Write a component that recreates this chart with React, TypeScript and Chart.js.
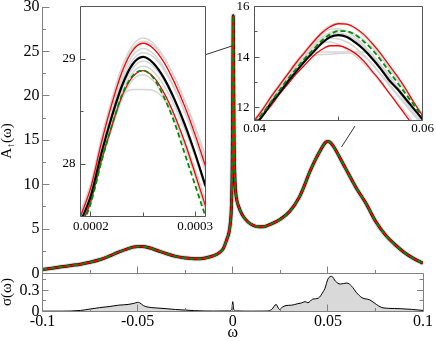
import React, { useEffect, useRef } from 'react';
import { Chart, registerables } from 'chart.js';

Chart.register(...registerables);

const W = 436;
const H = 341;
const FONT = "'Liberation Serif', 'Times New Roman', Times, serif";
const AXIS = '#808080';
const FRAME = '#555555';
const GRAY = '#d6d6d6';
const RED = '#ff0000';
const GREEN = '#008c00';
const BLACK = '#000000';

// ---------- main panel: A(omega) ----------
const mainOmega = [-0.1, -0.095, -0.09, -0.085, -0.08, -0.075, -0.07, -0.065, -0.06, -0.055,
  -0.0525, -0.05, -0.0475, -0.045, -0.04, -0.035, -0.03, -0.025, -0.02, -0.015, -0.01, -0.007,
  -0.005, -0.003, -0.002, -0.0012, -0.0007, -0.0003, -0.0001, 0, 0.0001, 0.00019,
  0.00025, 0.00031, 0.0004, 0.0005, 0.0007, 0.001, 0.0015, 0.002, 0.003, 0.005,
  0.008, 0.011, 0.014, 0.017, 0.02, 0.025, 0.03, 0.035, 0.0375, 0.04,
  0.0425, 0.045, 0.0475, 0.048, 0.049, 0.05, 0.051, 0.052, 0.053, 0.055, 0.0575, 0.06, 0.065, 0.07,
  0.075, 0.08, 0.085, 0.09, 0.095, 0.1];
const mainMean = [0.45, 0.6, 0.75, 0.9, 1.05, 1.27, 1.55, 1.95, 2.4, 2.8,
  2.97, 3.05, 3.03, 2.95, 2.62, 2.25, 1.93, 1.75, 1.65, 1.72, 2.0, 2.35,
  2.8, 3.9, 4.6, 5.8, 7.5, 11.5, 16.5, 19.5, 24.0, 27.4,
  29.02, 27.8, 24.5, 20.5, 15.0, 11.5, 9.3, 8.4, 7.6, 6.6,
  5.8, 5.4, 5.25, 5.3, 5.55, 6.1, 7.0, 8.6, 9.8, 11.2,
  12.4, 13.45, 14.4, 14.55, 14.8, 14.87, 14.8, 14.58, 14.3, 13.55, 12.55, 11.55, 9.6, 7.9,
  5.9, 4.4, 3.3, 2.4, 1.7, 1.16];

// zoom connector lines (main-panel coordinates)
const link1Omega = [-0.01406, -0.0004];
const link1A = [24.65, 25.61];
const link2Omega = [0.06426, 0.05716];
const link2A = [16.6, 14.24];

// ---------- lower panel: sigma(omega) ----------
const sigmaOmega = [-0.1, -0.09, -0.08, -0.075, -0.07, -0.065, -0.06, -0.055, -0.052, -0.05,
  -0.049, -0.047, -0.045, -0.04, -0.035, -0.03, -0.025, -0.02, -0.01, -0.002,
  -0.0005, 0, 0.0005, 0.002, 0.01, 0.018, 0.0205, 0.0228, 0.0245, 0.026,
  0.028, 0.031, 0.034, 0.036, 0.038, 0.0395, 0.042, 0.045, 0.0475, 0.0485,
  0.05, 0.052, 0.054, 0.0565, 0.06, 0.0625, 0.065, 0.068, 0.072, 0.0755,
  0.078, 0.082, 0.088, 0.094, 0.1];
const sigmaValues = [0.005, 0.005, 0.015, 0.035, 0.055, 0.07, 0.09, 0.10, 0.115, 0.13,
  0.125, 0.085, 0.065, 0.05, 0.04, 0.028, 0.02, 0.012, 0.006, 0.008,
  0.03, 0.14, 0.03, 0.008, 0.005, 0.006, 0.03, 0.10, 0.03, 0.06,
  0.085, 0.09, 0.11, 0.12, 0.14, 0.125, 0.175, 0.19, 0.28, 0.33,
  0.46, 0.50, 0.43, 0.39, 0.405, 0.36, 0.27, 0.195, 0.165, 0.10,
  0.06, 0.045, 0.04, 0.03, 0.015];

// ---------- inset 1 (central peak) ----------
const inset1Omega = [0.00019, 0.0002, 0.00021, 0.00022, 0.00023, 0.00024, 0.00025,
  0.00026, 0.00027, 0.00028, 0.00029, 0.0003, 0.00031];
const inset1Black = [27.45, 27.70, 28.10, 28.45, 28.75, 28.95, 29.02, 28.96, 28.82, 28.62, 28.38, 28.10, 27.79];
const inset1RedHigh = [27.50, 27.78, 28.20, 28.57, 28.88, 29.08, 29.15, 29.10, 28.97, 28.78, 28.55, 28.28, 27.98];
const inset1RedLow = [27.40, 27.65, 28.03, 28.36, 28.65, 28.83, 28.89, 28.83, 28.68, 28.47, 28.21, 27.91, 27.60];
const inset1Green = [27.38, 27.63, 28.02, 28.36, 28.66, 28.84, 28.89, 28.82, 28.64, 28.40, 28.10, 27.80, 27.50];
const inset1Gray = [
  [27.55, 27.82, 28.25, 28.62, 28.93, 29.13, 29.20, 29.15, 29.02, 28.83, 28.60, 28.33, 28.03],
  [27.52, 27.80, 28.22, 28.58, 28.90, 29.10, 29.17, 29.13, 29.01, 28.83, 28.61, 28.36, 28.08],
  [27.50, 27.76, 28.17, 28.53, 28.84, 29.03, 29.10, 29.05, 28.92, 28.73, 28.50, 28.23, 27.93],
  [27.48, 27.74, 28.14, 28.49, 28.80, 28.99, 29.06, 29.02, 28.90, 28.72, 28.50, 28.25, 27.97],
  [27.44, 27.69, 28.08, 28.42, 28.72, 28.91, 28.98, 28.93, 28.80, 28.60, 28.36, 28.08, 27.77],
  [27.42, 27.67, 28.05, 28.39, 28.68, 28.87, 28.93, 28.88, 28.75, 28.56, 28.33, 28.07, 27.78],
  [27.40, 27.64, 28.02, 28.34, 28.62, 28.80, 28.85, 28.79, 28.64, 28.43, 28.17, 27.88, 27.56],
  [27.40, 27.64, 28.02, 28.34, 28.64, 28.71, 28.71, 28.70, 28.62, 28.45, 28.22, 27.95, 27.65],
];

// ---------- inset 2 (peak at 0.05) ----------
const inset2Omega = [0.04, 0.041, 0.042, 0.043, 0.044, 0.045, 0.046, 0.047, 0.048, 0.049, 0.05,
  0.051, 0.052, 0.053, 0.054, 0.055, 0.056, 0.057, 0.058, 0.059, 0.06];
const inset2Black = [11.3, 11.7, 12.2, 12.6, 13.05, 13.45, 13.85, 14.2, 14.55, 14.8, 14.87, 14.8, 14.58, 14.3, 13.95, 13.55, 13.1, 12.75, 12.35, 11.95, 11.55];
const inset2RedHigh = [11.5, 11.95, 12.45, 12.9, 13.35, 13.8, 14.2, 14.6, 14.95, 15.2, 15.32, 15.3, 15.15, 14.9, 14.55, 14.15, 13.7, 13.25, 12.75, 12.2, 11.7];
const inset2RedLow = [11.3, 11.7, 12.1, 12.55, 12.95, 13.35, 13.7, 14.05, 14.3, 14.45, 14.45, 14.35, 14.15, 13.85, 13.45, 13.05, 12.6, 12.15, 11.7, 11.25, 10.8];
const inset2Green = [11.4, 11.8, 12.25, 12.7, 13.15, 13.55, 13.95, 14.3, 14.65, 14.9, 15.03, 15.02, 14.88, 14.62, 14.3, 13.9, 13.45, 13.0, 12.55, 12.1, 11.65];
const inset2Gray = [
  [11.55, 12.0, 12.5, 12.95, 13.4, 13.85, 14.25, 14.65, 15.0, 15.25, 15.35, 15.3, 15.12, 14.85, 14.5, 14.1, 13.65, 13.2, 12.7, 12.2, 11.7],
  [11.45, 11.9, 12.4, 12.85, 13.3, 13.75, 14.15, 14.55, 14.9, 15.1, 15.12, 15.0, 14.78, 14.48, 14.12, 13.72, 13.3, 12.85, 12.4, 11.95, 11.5],
  [11.4, 11.8, 12.3, 12.75, 13.2, 13.6, 14.0, 14.4, 14.7, 14.9, 14.95, 14.88, 14.68, 14.4, 14.05, 13.65, 13.22, 12.8, 12.35, 11.9, 11.45],
  [11.35, 11.75, 12.25, 12.7, 13.15, 13.55, 13.95, 14.3, 14.6, 14.75, 14.72, 14.6, 14.38, 14.08, 13.72, 13.32, 12.9, 12.5, 12.1, 11.7, 11.3],
  [11.35, 11.75, 12.25, 12.7, 13.15, 13.55, 13.95, 14.08, 14.1, 14.12, 14.14, 14.16, 14.18, 14.05, 13.75, 13.35, 12.95, 12.55, 12.15, 11.75, 11.35],
  [11.4, 11.8, 12.3, 12.75, 13.2, 13.6, 14.0, 14.18, 14.2, 14.2, 14.2, 14.2, 14.2, 14.2, 13.95, 13.55, 13.15, 12.7, 12.25, 11.8, 11.4],
  [11.3, 11.7, 12.15, 12.6, 13.05, 13.5, 13.9, 14.3, 14.55, 14.6, 14.5, 14.3, 14.05, 13.75, 13.4, 13.0, 12.6, 12.2, 11.8, 11.4, 11.0],
  [11.45, 11.85, 12.3, 12.75, 13.2, 13.65, 14.05, 14.45, 14.78, 14.98, 15.05, 15.02, 14.9, 14.68, 14.38, 14.0, 13.58, 13.12, 12.65, 12.2, 11.75],
];

// ---------- tick positions & labels ----------
const mainYTicks = [0, 5, 10, 15, 20, 25, 30];
const mainYLabels = ['0', '5', '10', '15', '20', '25', '30'];
const mainYMinor = [2.5, 7.5, 12.5, 17.5, 22.5, 27.5];
const omegaMajor = [-0.05, 0, 0.05];
const omegaMinor = [-0.075, -0.025, 0.025, 0.075];
const lowerXTicks = [-0.1, -0.05, 0, 0.05, 0.1];
const lowerXLabels = ['-0.1', '-0.05', '0', '0.05', '0.1'];
const lowerYTicks = [0, 0.3];
const lowerYLabels = ['0', '0.3'];
const lowerYMinor = [0.15, 0.45];
const inset1XTicks = [0.0002, 0.0003];
const inset1XLabels = ['0.0002', '0.0003'];
const inset1XMinor = [0.00025];
const inset1YTicks = [28, 29];
const inset1YLabels = ['28', '29'];
const inset1YMinor = [28.5];
const inset2XTicks = [0.04, 0.06];
const inset2XLabels = ['0.04', '0.06'];
const inset2XMinor = [0.05];
const inset2YTicks = [12, 14, 16];
const inset2YLabels = ['12', '14', '16'];
const inset2YMinor = [13, 15];

// ---------- helpers ----------
const pts = (xs: number[], ys: number[]) => xs.map((x, i) => ({ x, y: ys[i] }));

function lineDs(xs: number[], ys: number[], color: string, width: number, order: number, dash: number[] = [], mono = true): any {
  return {
    data: pts(xs, ys),
    borderColor: color,
    backgroundColor: color,
    borderWidth: width,
    borderDash: dash,
    pointRadius: 0,
    pointHoverRadius: 0,
    fill: false,
    cubicInterpolationMode: mono ? 'monotone' : 'default',
    tension: 0,
    order,
    clip: 0,
  };
}

const crisp = (v: number) => Math.round(v - 0.5) + 0.5;

function seg(ctx: CanvasRenderingContext2D, x1: number, y1: number, x2: number, y2: number, color: string) {
  ctx.save();
  ctx.strokeStyle = color;
  ctx.lineWidth = 1;
  ctx.beginPath();
  ctx.moveTo(x1, y1);
  ctx.lineTo(x2, y2);
  ctx.stroke();
  ctx.restore();
}

function tickMarks(chart: any, axis: 'x' | 'y', values: number[], len: number, edge: string, color: string) {
  const { ctx, chartArea: a, scales } = chart;
  ctx.save();
  ctx.strokeStyle = color;
  ctx.lineWidth = 1;
  ctx.beginPath();
  values.forEach((v) => {
    if (axis === 'y') {
      const y = crisp(scales.y.getPixelForValue(v));
      const x0 = edge === 'left' ? a.left : a.right;
      const dir = edge === 'left' ? 1 : -1;
      ctx.moveTo(x0, y);
      ctx.lineTo(x0 + dir * len, y);
    } else {
      const x = crisp(scales.x.getPixelForValue(v));
      const y0 = edge === 'bottom' ? a.bottom : a.top;
      const dir = edge === 'bottom' ? -1 : 1;
      ctx.moveTo(x, y0);
      ctx.lineTo(x, y0 + dir * len);
    }
  });
  ctx.stroke();
  ctx.restore();
}

function scaleCfg(kind: 'x' | 'y', size: number, min: number, max: number, tickVals: number[], tickLabels: string[], fontSize: number, pad: number): any {
  return {
    type: 'linear',
    min,
    max,
    display: true,
    grid: { display: false, drawTicks: false },
    border: { display: false },
    afterBuildTicks: (s: any) => {
      s.ticks = tickVals.map((v) => ({ value: v }));
    },
    ticks: {
      autoSkip: false,
      maxRotation: 0,
      minRotation: 0,
      padding: pad,
      color: '#000',
      font: { family: FONT, size: fontSize },
      callback: (_v: any, i: number) => tickLabels[i],
    },
    afterFit: (s: any) => {
      if (kind === 'x') s.height = size;
      else s.width = size;
      s.paddingTop = 0;
      s.paddingBottom = 0;
      s.paddingLeft = 0;
      s.paddingRight = 0;
    },
  };
}

function baseOptions(padding: any, scales: any): any {
  return {
    responsive: false,
    maintainAspectRatio: false,
    animation: false,
    devicePixelRatio: 1,
    events: [],
    layout: { padding },
    plugins: { legend: { display: false }, tooltip: { enabled: false } },
    scales,
  };
}

function decor(id: string, before: ((chart: any) => void) | null, after: ((chart: any) => void) | null): any {
  return {
    id,
    beforeDraw(chart: any) {
      if (before) before(chart);
    },
    afterDraw(chart: any) {
      if (after) after(chart);
    },
  };
}

function rotatedText(ctx: CanvasRenderingContext2D, cx: number, cy: number, parts: { t: string; size: number; dy: number }[]) {
  ctx.save();
  ctx.translate(cx, cy);
  ctx.rotate(-Math.PI / 2);
  ctx.fillStyle = '#000';
  ctx.textBaseline = 'alphabetic';
  ctx.textAlign = 'left';
  let total = 0;
  const widths = parts.map((p) => {
    ctx.font = `${p.size}px ${FONT}`;
    const w = ctx.measureText(p.t).width;
    total += w;
    return w;
  });
  let x = -total / 2;
  parts.forEach((p, i) => {
    ctx.font = `${p.size}px ${FONT}`;
    ctx.fillText(p.t, x, p.dy);
    x += widths[i];
  });
  ctx.restore();
}

// ---------- chart configs ----------
function mainConfig(): any {
  return {
    type: 'line',
    data: {
      datasets: [
        lineDs(link1Omega, link1A, '#333333', 1, 0, [], false),
        lineDs(link2Omega, link2A, '#333333', 1, 0, [], false),
        lineDs(mainOmega, mainMean, GREEN, 2, 1, [4, 4]),
        lineDs(mainOmega, mainMean, RED, 2, 2),
        lineDs(mainOmega, mainMean, BLACK, 3, 3),
        lineDs(mainOmega, mainMean, GRAY, 5, 4),
      ],
    },
    options: baseOptions({ left: 0, top: 7, right: 13, bottom: 67.5 }, {
      x: { type: 'linear', min: -0.1, max: 0.1, display: false },
      y: scaleCfg('y', 42.5, 0, 30, mainYTicks, mainYLabels, 16, 3),
    }),
    plugins: [
      decor('mainDecor', null, (chart: any) => {
        const { ctx, chartArea: a } = chart;
        seg(ctx, crisp(a.left), a.top, crisp(a.left), a.bottom, AXIS);
        seg(ctx, a.left, crisp(a.bottom), a.right, crisp(a.bottom), AXIS);
        tickMarks(chart, 'y', mainYTicks, 7, 'left', AXIS);
        tickMarks(chart, 'y', mainYMinor, 3.5, 'left', AXIS);
        tickMarks(chart, 'x', omegaMajor, 7, 'bottom', AXIS);
        tickMarks(chart, 'x', omegaMinor, 3.5, 'bottom', AXIS);
        rotatedText(ctx, 11, 141, [
          { t: 'A', size: 15, dy: 0 },
          { t: '↑', size: 10, dy: 3 },
          { t: '(ω)', size: 15, dy: 0 },
        ]);
      }),
    ],
  };
}

function lowerConfig(): any {
  return {
    type: 'line',
    data: {
      datasets: [
        {
          ...lineDs(sigmaOmega, sigmaValues, BLACK, 1, 0),
          fill: 'origin',
          backgroundColor: '#d9d9d9',
        },
      ],
    },
    options: baseOptions({ left: 0, top: 273.5, right: 13, bottom: 0 }, {
      x: scaleCfg('x', 29.5, -0.1, 0.1, lowerXTicks, lowerXLabels, 16, 1),
      y: scaleCfg('y', 42.5, 0, 0.54, lowerYTicks, lowerYLabels, 16, 3),
    }),
    plugins: [
      decor('lowerDecor', null, (chart: any) => {
        const { ctx, chartArea: a } = chart;
        const l = crisp(a.left), r = crisp(a.right), t = crisp(a.top), b = crisp(a.bottom);
        seg(ctx, l, t, l, b, AXIS);
        seg(ctx, r, t, r, b, AXIS);
        seg(ctx, l, b, r, b, AXIS);
        seg(ctx, l, t, r, t, AXIS);
        tickMarks(chart, 'y', [0.3], 6, 'left', AXIS);
        tickMarks(chart, 'y', lowerYMinor, 3.5, 'left', AXIS);
        tickMarks(chart, 'y', [0.3], 6, 'right', AXIS);
        tickMarks(chart, 'y', lowerYMinor, 3.5, 'right', AXIS);
        tickMarks(chart, 'x', omegaMajor, 7, 'bottom', AXIS);
        tickMarks(chart, 'x', omegaMinor, 3.5, 'bottom', AXIS);
        rotatedText(ctx, 10.5, 292, [{ t: 'σ(ω)', size: 15, dy: 0 }]);
        ctx.save();
        ctx.fillStyle = '#000';
        ctx.font = `16px ${FONT}`;
        ctx.textAlign = 'center';
        ctx.textBaseline = 'alphabetic';
        ctx.fillText('ω', chart.scales.x.getPixelForValue(0), 337);
        ctx.restore();
      }),
    ],
  };
}

function insetConfig(o: any): any {
  const ds: any[] = [];
  o.gray.forEach((g: number[]) => ds.push(lineDs(o.xs, g, GRAY, 1.5, 10)));
  ds.push(lineDs(o.xs, o.redHigh, RED, 1.3, 4));
  ds.push(lineDs(o.xs, o.redLow, RED, 1.3, 4));
  ds.push(lineDs(o.xs, o.black, BLACK, 2.2, 3));
  ds.push(lineDs(o.xs, o.green, GREEN, 1.8, 1, [5, 3]));
  const A = o.area;
  return {
    type: 'line',
    data: { datasets: ds },
    options: baseOptions(
      { left: 0, top: A.top, right: W - A.right, bottom: H - A.bottom - 16 },
      {
        x: scaleCfg('x', 16, o.xMin, o.xMax, o.xTicks, o.xLabels, 13, o.xPad),
        y: scaleCfg('y', A.left, o.yMin, o.yMax, o.yTicks, o.yLabels, 13, o.yPad),
      },
    ),
    plugins: [
      decor(
        o.id,
        (chart: any) => {
          const { ctx, chartArea: a } = chart;
          ctx.save();
          ctx.fillStyle = '#ffffff';
          ctx.fillRect(a.left, a.top, a.right - a.left, a.bottom - a.top);
          ctx.restore();
        },
        (chart: any) => {
          const { ctx, chartArea: a } = chart;
          const l = crisp(a.left), r = crisp(a.right), t = crisp(a.top), b = crisp(a.bottom);
          seg(ctx, l, t, r, t, FRAME);
          seg(ctx, r, t, r, b, FRAME);
          seg(ctx, l, b, r, b, FRAME);
          seg(ctx, l, t, l, b, FRAME);
          tickMarks(chart, 'y', o.yTicks, 5, 'left', FRAME);
          tickMarks(chart, 'y', o.yMinor, 3, 'left', FRAME);
          tickMarks(chart, 'x', o.xTicks, 5, 'bottom', FRAME);
          tickMarks(chart, 'x', o.xMinor, 4, 'bottom', FRAME);
        },
      ),
    ],
  };
}

function inset1Config(): any {
  return insetConfig({
    id: 'inset1Decor',
    xs: inset1Omega,
    gray: inset1Gray,
    black: inset1Black,
    redHigh: inset1RedHigh,
    redLow: inset1RedLow,
    green: inset1Green,
    area: { left: 80.5, top: 6.5, right: 205.5, bottom: 216.5 },
    xMin: 0.00019, xMax: 0.00031, yMin: 27.5, yMax: 29.5,
    xTicks: inset1XTicks, xLabels: inset1XLabels, xMinor: inset1XMinor,
    yTicks: inset1YTicks, yLabels: inset1YLabels, yMinor: inset1YMinor,
    xPad: 2, yPad: 5,
  });
}

function inset2Config(): any {
  return insetConfig({
    id: 'inset2Decor',
    xs: inset2Omega,
    gray: inset2Gray,
    black: inset2Black,
    redHigh: inset2RedHigh,
    redLow: inset2RedLow,
    green: inset2Green,
    area: { left: 254.5, top: 6.5, right: 422.5, bottom: 120.5 },
    xMin: 0.04, xMax: 0.06, yMin: 11.5, yMax: 16,
    xTicks: inset2XTicks, xLabels: inset2XLabels, xMinor: inset2XMinor,
    yTicks: inset2YTicks, yLabels: inset2YLabels, yMinor: inset2YMinor,
    xPad: 0, yPad: 5,
  });
}

function ChartLayer({ make }: { make: () => any }) {
  const ref = useRef<HTMLCanvasElement>(null);
  useEffect(() => {
    if (!ref.current) return;
    const chart = new Chart(ref.current, make());
    return () => chart.destroy();
  }, [make]);
  return (
    <canvas
      ref={ref}
      width={W}
      height={H}
      style={{ position: 'absolute', left: 0, top: 0, width: W, height: H, display: 'block' }}
    />
  );
}

export default function App() {
  return (
    <div style={{ position: 'absolute', left: 0, top: 0, width: W, height: H, background: '#fff', overflow: 'hidden' }}>
      <ChartLayer make={mainConfig} />
      <ChartLayer make={lowerConfig} />
      <ChartLayer make={inset1Config} />
      <ChartLayer make={inset2Config} />
    </div>
  );
}
